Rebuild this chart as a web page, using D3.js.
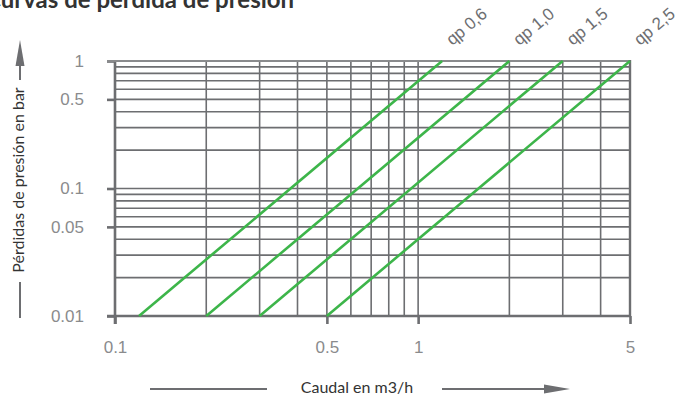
<!DOCTYPE html>
<html>
<head>
<meta charset="utf-8">
<script src="https://cdn.jsdelivr.net/npm/d3@7"></script>
<style>
  body { margin: 0; background: #fff; }
  svg { display: block; }
  .num { font-family: "Liberation Sans", Arial, sans-serif; font-weight: normal; }
  .lab { font-family: Lato, "Open Sans", sans-serif; }
</style>
</head>
<body>
<svg width="676" height="398"></svg>
<script>
// DATA

var curveNames = ["qp 0,6", "qp 1,0", "qp 1,5", "qp 2,5"];
var curveFlow = [[0.12, 1.2], [0.2, 2], [0.3, 3], [0.5, 5]];   // m3/h at the two ends
var curvePress = [0.01, 1];                                      // bar at the two ends

var xTicks = [0.1, 0.5, 1, 5];
var yTicks = [0.01, 0.05, 0.1, 0.5, 1];
var xGrid = [0.2, 0.3, 0.4, 0.5, 0.6, 0.7, 0.8, 0.9, 1, 2, 3, 4, 5];
var yGrid = [0.02, 0.03, 0.04, 0.05, 0.06, 0.07, 0.08, 0.09, 0.1,
             0.2, 0.3, 0.4, 0.5, 0.6, 0.7, 0.8, 0.9, 1];

// SETUP

var svg = d3.select("svg"),
    grey = "#6d6e71",
    green = "#3db54a",
    x = d3.scaleLog().domain([0.1, 5]).range([115, 630]),
    y = d3.scaleLog().domain([0.01, 1]).range([316, 61]);

// title sits half off the top edge, as in the original
svg.append("text")
    .attr("class", "lab")
    .attr("x", -15).attr("y", 8)
    .attr("font-weight", "bold")
    .style("font-size", "24px")
    .attr("fill", "#333")
    .text("Curvas de pérdida de presión");

// grid
svg.append("g").selectAll("line")
    .data(xGrid).enter().append("line")
    .attr("x1", function (d) { return x(d); })
    .attr("x2", function (d) { return x(d); })
    .attr("y1", y(1)).attr("y2", y(0.01))
    .attr("stroke", grey).attr("stroke-width", 1.6);

svg.append("g").selectAll("line")
    .data(yGrid).enter().append("line")
    .attr("x1", x(0.1)).attr("x2", x(5))
    .attr("y1", function (d) { return y(d); })
    .attr("y2", function (d) { return y(d); })
    .attr("stroke", grey).attr("stroke-width", 1.6);

// axes
var fmt = function (d) { return String(d); };

var gx = svg.append("g")
    .attr("transform", "translate(0," + y(0.01) + ")")
    .call(d3.axisBottom(x).tickValues(xTicks).tickFormat(fmt)
          .tickSize(8).tickSizeOuter(0).tickPadding(17));

var gy = svg.append("g")
    .attr("transform", "translate(" + x(0.1) + ",0)")
    .call(d3.axisLeft(y).tickValues(yTicks).tickFormat(fmt)
          .tickSize(8).tickSizeOuter(0).tickPadding(23));

[gx, gy].forEach(function (g) {
    g.attr("font-family", null).attr("font-size", null);
    g.select(".domain").remove();
    g.selectAll(".tick line").attr("stroke", grey).attr("stroke-width", 2.6);
    g.selectAll(".tick text")
        .attr("class", "num")
        .style("font-size", "17px")
        .attr("fill", "#8a8b8d");
});

// main axis lines, running past the corner like a tick
svg.append("line")
    .attr("x1", x(0.1) - 8).attr("x2", x(5))
    .attr("y1", y(0.01)).attr("y2", y(0.01))
    .attr("stroke", grey).attr("stroke-width", 2.6);
svg.append("line")
    .attr("x1", x(0.1)).attr("x2", x(0.1))
    .attr("y1", y(1)).attr("y2", y(0.01) + 8)
    .attr("stroke", grey).attr("stroke-width", 2.6);
svg.append("line")
    .attr("x1", x(0.1) - 8).attr("x2", x(5))
    .attr("y1", y(1)).attr("y2", y(1))
    .attr("stroke", "#8a8b8d").attr("stroke-width", 2.2);
svg.append("line")
    .attr("x1", x(5)).attr("x2", x(5))
    .attr("y1", y(1) - 1).attr("y2", y(0.01))
    .attr("stroke", grey).attr("stroke-width", 2.4);

// curves
var line = d3.line()
    .x(function (d) { return x(d[0]); })
    .y(function (d) { return y(d[1]); });

curveNames.forEach(function (name, i) {
    var pts = curveFlow[i].map(function (q, j) { return [q, curvePress[j]]; });
    svg.append("path")
        .attr("d", line(pts))
        .attr("fill", "none")
        .attr("stroke", green)
        .attr("stroke-width", 2.6);

    svg.append("text")
        .attr("class", "num")
        .attr("transform", "translate(" + (x(curveFlow[i][1]) + 10) + ",46) rotate(-40)")
        .style("font-size", "17px")
        .attr("fill", grey)
        .text(name);
});

// axis titles with arrows
svg.append("text")
    .attr("class", "lab")
    .attr("transform", "translate(24,180) rotate(-90)")
    .attr("text-anchor", "middle")
    .style("font-size", "16px")
    .attr("fill", "#333")
    .text("Pérdidas de presión en bar");

svg.append("line")
    .attr("x1", 20).attr("x2", 20).attr("y1", 282).attr("y2", 318)
    .attr("stroke", grey).attr("stroke-width", 2);
svg.append("line")
    .attr("x1", 20).attr("x2", 20).attr("y1", 60).attr("y2", 80)
    .attr("stroke", grey).attr("stroke-width", 2);
svg.append("path")
    .attr("d", "M20,40 L24.5,66 L15.5,66 Z")
    .attr("fill", grey);

svg.append("text")
    .attr("class", "lab")
    .attr("x", 357).attr("y", 393)
    .attr("text-anchor", "middle")
    .style("font-size", "16px")
    .attr("fill", "#333")
    .text("Caudal en m3/h");

svg.append("line")
    .attr("x1", 150).attr("x2", 267).attr("y1", 389).attr("y2", 389)
    .attr("stroke", grey).attr("stroke-width", 2);
svg.append("line")
    .attr("x1", 442).attr("x2", 550).attr("y1", 389).attr("y2", 389)
    .attr("stroke", grey).attr("stroke-width", 2);
svg.append("path")
    .attr("d", "M570,389 L544,384.5 L544,393.5 Z")
    .attr("fill", grey);
</script>
</body>
</html>
